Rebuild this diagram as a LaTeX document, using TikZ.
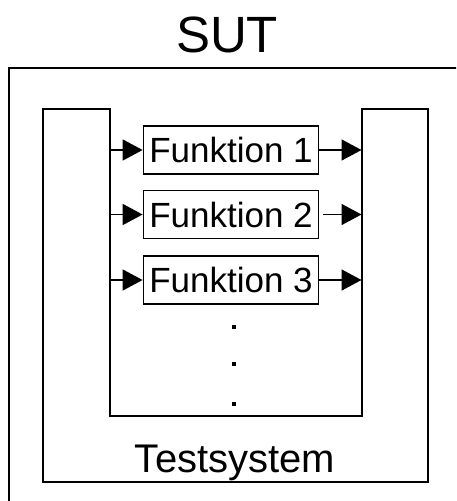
\documentclass[tikz,border=0pt]{standalone}
\usepackage{fontspec}
\setmainfont{Liberation Sans}
\usetikzlibrary{arrows.meta}
\tikzset{
  frame/.style={draw=black, line width=2pt},
  fbox/.style={draw=black, line width=1.8pt, minimum width=175pt, minimum height=48pt,
    inner sep=0pt, text depth=0pt, font=\fontsize{35}{35}\selectfont},
  arr/.style={line width=1.6pt, -{Triangle[length=20pt, width=21pt]}},
  dot/.style={fill=black, rectangle, inner sep=0pt, minimum size=4pt},
}
\begin{document}
\begin{tikzpicture}[x=1pt, y=-1pt]
\useasboundingbox (0,0) rectangle (456,501);
\fill[white] (0,0) rectangle (456,501);
\clip (0,0) rectangle (456,501);

% SUT frame (runs past the right and bottom edge)
\draw[frame] (9,68) rectangle (490,540);
\node[anchor=base, font=\fontsize{51}{51}\selectfont] (sut) at (227,52) {SUT};

% Testsystem: U-shaped outline
\coordinate (lcol) at (110,109);
\coordinate (rcol) at (361.5,109);
\draw[frame] (42.7,109.3) -- (110,109.3) -- (110,416) -- (361.5,416) -- (361.5,109.3)
  -- (427.5,109.3) -- (427.5,482) -- (42.7,482) -- cycle;
\node[anchor=base, font=\fontsize{40}{40}\selectfont] (ts) at (235,472) {Testsystem};

% function blocks
\node[fbox] (f1) at (231,150) {Funktion 1};
\node[fbox] (f2) at (231,214.5) {Funktion 2};
\node[fbox] (f3) at (231,280) {Funktion 3};

% inputs from the left column, outputs to the right column
\foreach \f in {f1,f2,f3}{
  \draw[arr] (\f.west -| lcol) -- (\f.west);
}
\draw[arr] (f1.east) -- (f1.east -| rcol);
\draw[arr] ([xshift=4pt]f2.east) -- (f2.east -| rcol);
\draw[arr] (f3.east) -- (f3.east -| rcol);

% continuation dots
\node[dot] (d1) at (234,326.7) {};
\node[dot] (d2) at (234,364.3) {};
\node[dot] (d3) at (234,404) {};
\end{tikzpicture}
\end{document}
